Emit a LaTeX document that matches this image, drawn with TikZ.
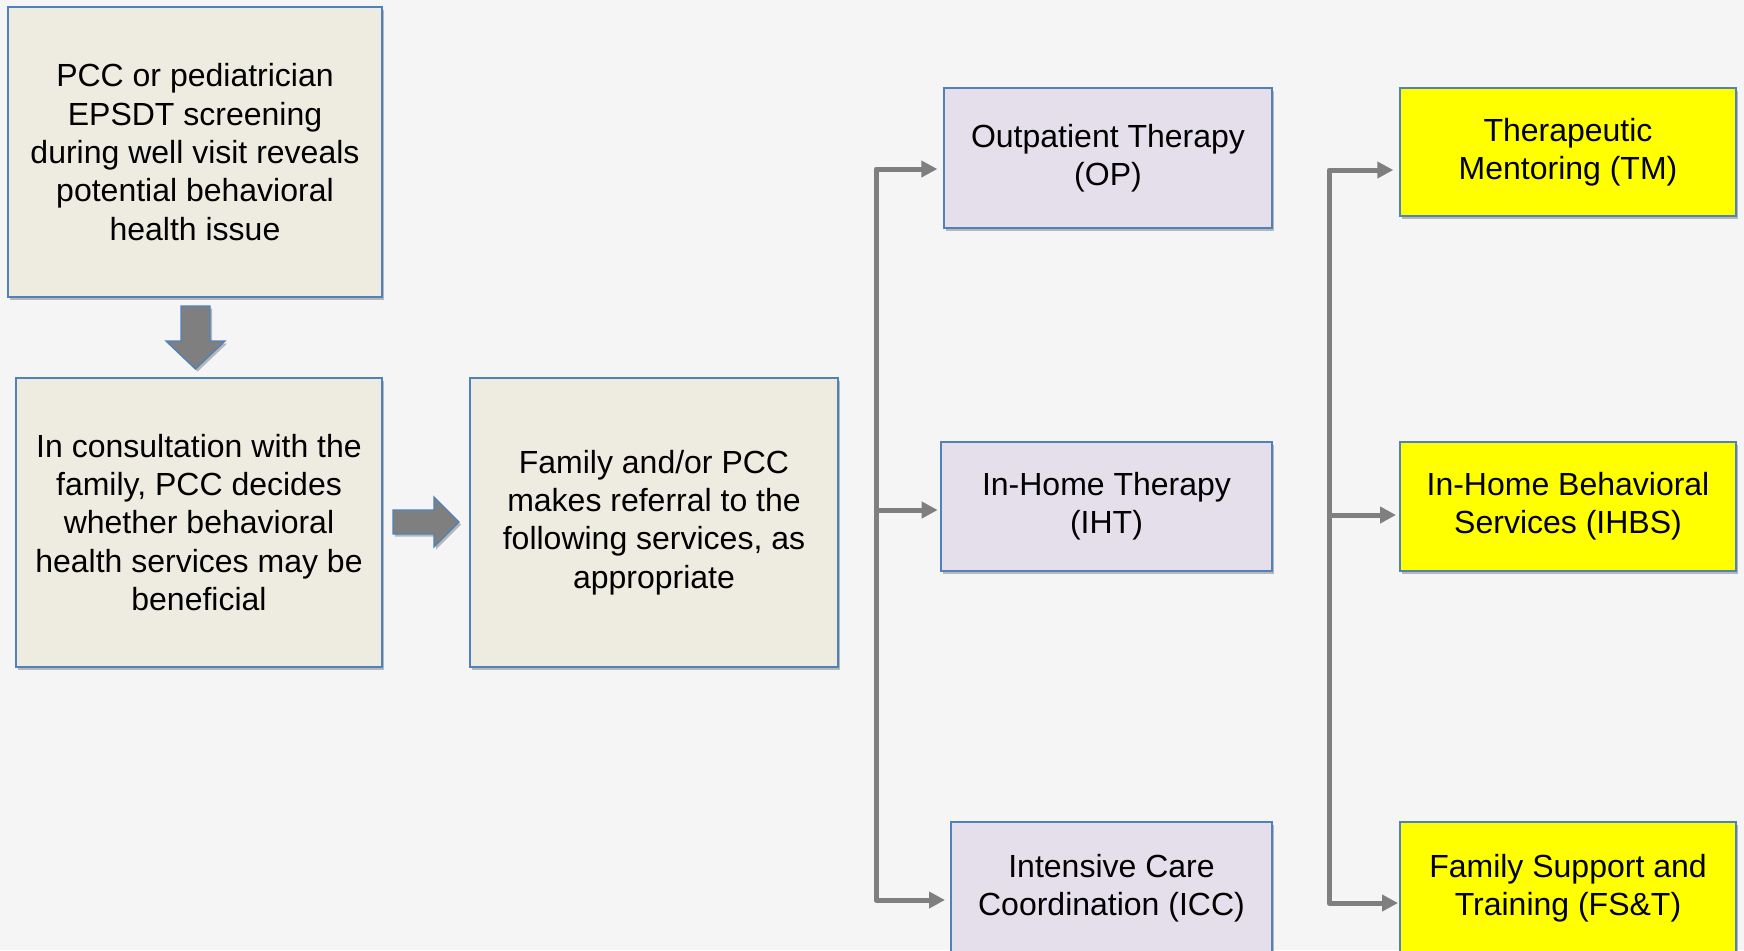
\documentclass[tikz,border=0pt]{standalone}
\usepackage{fontspec}
\setmainfont{Liberation Sans}
\usetikzlibrary{arrows.meta,shadows}
\definecolor{bg}{HTML}{F5F5F5}
\definecolor{beige}{HTML}{EEECE1}
\definecolor{lav}{HTML}{E5DFEC}
\definecolor{yel}{HTML}{FFFF00}
\definecolor{edge}{HTML}{4F81BD}
\definecolor{agray}{HTML}{7F7F7F}
\begin{document}
\begin{tikzpicture}[x=0.75pt,y=-0.75pt,
  sz/.style 2 args={minimum width=#1*0.75pt,minimum height=#2*0.75pt},
  box/.style={draw=edge,line width=1.1pt,rectangle,inner sep=0pt,outer sep=0pt,align=center,
    font=\fontsize{24}{28.8}\selectfont,text=black,
    drop shadow={shadow xshift=1.5pt,shadow yshift=-2pt,opacity=0.25,fill=black}},
  beigebox/.style={box,fill=beige},
  lavbox/.style={box,fill=lav},
  yelbox/.style={box,fill=yel},
  conn/.style={draw=agray,line width=3.75pt,line join=round,-{Triangle[length=12pt,width=12pt]}},
  blockarrow/.style={fill=agray,draw=edge,line width=1pt,
    drop shadow={shadow xshift=1.5pt,shadow yshift=-2pt,opacity=0.25,fill=black}}]
\useasboundingbox (0,0) rectangle (1744,950);
\clip (0,0) rectangle (1744,950);
\fill[bg] (0,0) rectangle (1744,950);

\node[beigebox,sz={374}{290}] (b1) at (195,152)
  {PCC or pediatrician\\EPSDT screening\\during well visit reveals\\potential behavioral\\health issue};
\node[beigebox,sz={366}{289}] (b2) at (199,522.5)
  {In consultation with the\\family, PCC decides\\whether behavioral\\health services may be\\beneficial};
\node[beigebox,sz={368}{289}] (b3) at (654,522.5)
  {Family and/or PCC\\makes referral to the\\following services, as\\appropriate};

\node[lavbox,sz={328}{140}] (op) at (1108,158) {Outpatient Therapy\\(OP)};
\node[lavbox,sz={331}{129}] (iht) at (1106.5,506.5) {In-Home Therapy\\(IHT)};
\node[lavbox,sz={321}{132}] (icc) at (1111.5,888) {Intensive Care\\Coordination (ICC)};

\node[yelbox,sz={336}{128}] (tm) at (1568,152) {Therapeutic\\Mentoring (TM)};
\node[yelbox,sz={336}{129}] (ihbs) at (1568,506.5) {In-Home Behavioral\\Services (IHBS)};
\node[yelbox,sz={336}{132}] (fst) at (1568,888) {Family Support and\\Training (FS\&T)};

% block arrows
\path[blockarrow] (181,306) -- (210,306) -- (210,341) -- (225,341) -- (195.5,369)
  -- (166,341) -- (181,341) -- cycle;
\path[blockarrow] (393,510) -- (434,510) -- (434,497) -- (459,522) -- (434,547)
  -- (434,534) -- (393,534) -- cycle;

% left trunk
\coordinate (L1) at (876,169);
\coordinate (L2) at (876,510);
\coordinate (L3) at (876,900);
\draw[conn,shorten >=5pt] (L3) -- (L1) -- (op.west |- L1);
\draw[conn,shorten >=2.5pt] (L2) -- (iht.west |- L2);
\draw[conn,shorten >=4.5pt] (L1) -- (L3) -- (icc.west |- L3);

% right trunk
\coordinate (R1) at (1329,170);
\coordinate (R2) at (1329,515);
\coordinate (R3) at (1329,903);
\draw[conn,shorten >=5pt] (R3) -- (R1) -- (tm.west |- R1);
\draw[conn,shorten >=3pt] (R2) -- (ihbs.west |- R2);
\draw[conn,shorten >=1.5pt] (R1) -- (R3) -- (fst.west |- R3);
\end{tikzpicture}
\end{document}
